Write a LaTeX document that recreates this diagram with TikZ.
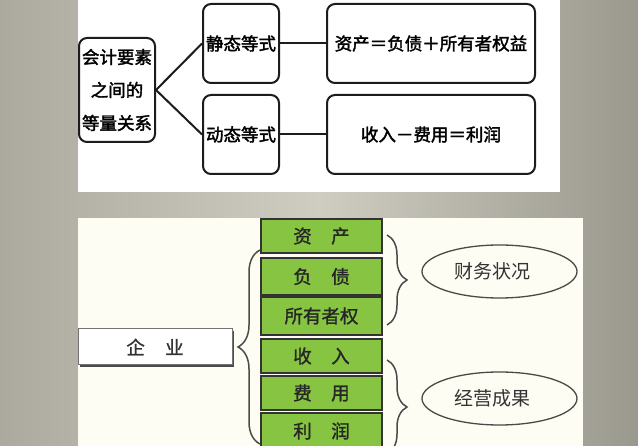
\documentclass[tikz,border=0pt]{standalone}
\usepackage{fontspec}
\newfontfamily\cjk{Noto Sans CJK SC}
\newfontfamily\cjkb{Noto Sans CJK SC}[FakeBold=1.2]
\newfontfamily\cjkbb{Noto Sans CJK SC}[FakeBold=2]
\usetikzlibrary{decorations.pathreplacing,shapes.geometric}
\definecolor{bgdark}{HTML}{ACAA9E}
\definecolor{bglight}{HTML}{CFCDC2}
\definecolor{cream}{HTML}{FDFDF3}
\definecolor{leaf}{HTML}{86C441}
\definecolor{edge}{HTML}{1C1C1C}
\definecolor{bracegray}{HTML}{4A4A4A}
\tikzset{
  topbox/.style={draw=edge, line width=2pt, rounded corners=8pt, fill=white, inner sep=0pt,
    font=\cjkbb\fontsize{17.5}{33}\selectfont, align=center},
  conn/.style={draw=edge, line width=2pt},
  greenbox/.style={draw=edge!90, line width=2.4pt, fill=leaf, inner sep=0pt,
    minimum width=121pt, font=\cjkb\fontsize{18.5}{20}\selectfont, text=black!85},
  ovalbox/.style={draw=bracegray, line width=1.3pt, ellipse, fill=cream, minimum width=155pt,
    minimum height=53pt, inner sep=0pt, font=\cjk\fontsize{19}{20}\selectfont, text=black!80},
  bracepath/.style={draw=bracegray, line width=1.5pt, decorate}
}
\begin{document}
\begin{tikzpicture}[x=1pt,y=-1pt]
\useasboundingbox (0,0) rectangle (638,446);
\clip (0,0) rectangle (638,446);
\shade[left color=bgdark, right color=bgdark!90!black, middle color=bglight] (0,0) rectangle (638,446);
% panels
\fill[white] (78,0) rectangle (560,192);
\fill[cream] (78,218) rectangle (583,446);

% top diagram
\node[topbox, minimum width=76pt, minimum height=104pt] (L) at (117,90) {会计要素\\之间的\\等量关系};
\node[topbox, minimum width=76pt, minimum height=79pt] (S) at (241,43.5) {静态等式};
\node[topbox, minimum width=76pt, minimum height=79pt] (D) at (241,134.5) {动态等式};
\node[topbox, minimum width=208pt, minimum height=79pt] (R1) at (431,43.5) {资产＝负债＋所有者权益};
\node[topbox, minimum width=208pt, minimum height=79pt] (R2) at (431,134.5) {收入－费用＝利润};
\draw[conn] (L.east) -- (S.west);
\draw[conn] (L.east) -- (D.west);
\draw[conn] (S.east) -- (R1.west);
\draw[conn] (D.east) -- (R2.west);

% bottom diagram
\fill[black!70] (80,331) rectangle (234,367);
\node[draw=black!55, line width=1pt, fill=white, minimum width=154pt, minimum height=36pt, inner sep=0pt,
  font=\cjkb\fontsize{18.5}{20}\selectfont, text=black!80] (Q) at (155,347) {企\hspace{1.1em}业};

\node[greenbox, minimum height=34pt] (G1) at (321.5,236) {资\hspace{1.05em}产};
\node[greenbox, minimum height=37pt] (G2) at (321.5,276.5) {负\hspace{1.05em}债};
\node[greenbox, minimum height=38pt] (G3) at (321.5,316) {所有者权};
\node[greenbox, minimum height=34pt] (G4) at (321.5,356) {收\hspace{1.05em}入};
\node[greenbox, minimum height=34pt] (G5) at (321.5,393) {费\hspace{1.05em}用};
\node[greenbox, minimum height=36pt] (G6) at (321.5,431) {利\hspace{1.05em}润};

\node[ovalbox] (E1) at (499.5,271.5) {\hspace*{-14pt}财务状况};
\node[ovalbox] (E2) at (499.5,398.5) {\hspace*{-14pt}经营成果};

\coordinate (LB1) at (260,444);
\coordinate (LB2) at (260,250);
\coordinate (RB1) at (387,235);
\coordinate (RB2) at (387,325);
\coordinate (RB3) at (387,360);
\coordinate (RB4) at (387,454);
\draw[bracepath, decoration={brace, amplitude=22pt}] (LB1) -- (LB2);
\draw[bracepath, decoration={brace, amplitude=20pt}] (RB1) -- (RB2);
\draw[bracepath, decoration={brace, amplitude=20pt}] (RB3) -- (RB4);
\end{tikzpicture}
\end{document}
